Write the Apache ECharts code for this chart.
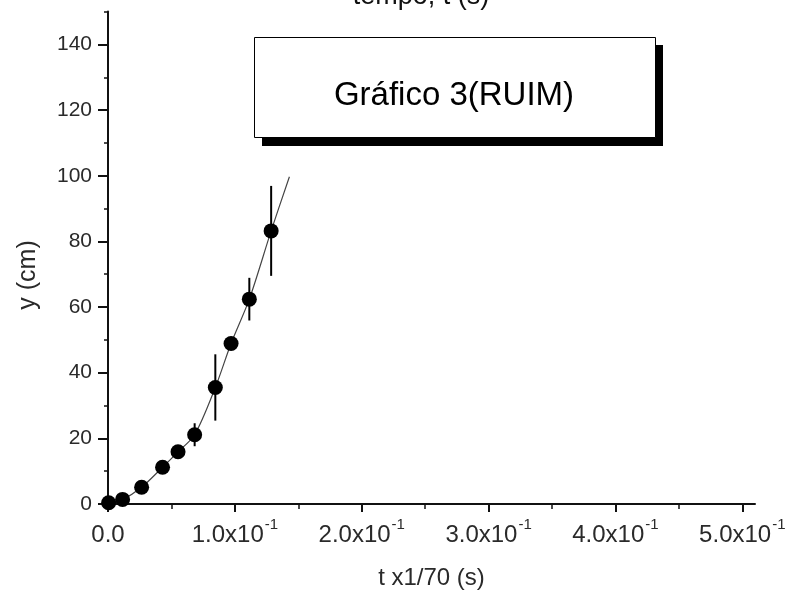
<!DOCTYPE html>
<html>
<head>
<meta charset="utf-8">
<script src="https://cdn.jsdelivr.net/npm/echarts@6/dist/echarts.min.js"></script>
<style>
html,body{margin:0;padding:0;background:#fff;}
#chart{width:794px;height:607px;}
</style>
</head>
<body>
<div id="chart"></div>
<script>
// ---- data ----
const pointT = [0.0005, 0.0115, 0.0265, 0.043, 0.0552, 0.0683, 0.0846, 0.097, 0.1114, 0.1286];
const pointY = [0.4, 1.4, 5.1, 11.2, 15.9, 21.1, 35.5, 48.9, 62.4, 83.2];
const pointErr = [0, 0, 0, 0, 0, 3.5, 10.1, 0, 6.5, 13.7];
const curveT = [0.0005, 0.0115, 0.0265, 0.043, 0.0552, 0.0683, 0.0846, 0.097, 0.1114, 0.1286, 0.143];
const curveY = [0.4, 1.4, 5.1, 11.2, 15.9, 21.1, 35.5, 48.9, 62.4, 83.2, 99.7];
const xMajorTicks = [0, 0.1, 0.2, 0.3, 0.4, 0.5];
const xMinorTicks = [0.05, 0.15, 0.25, 0.35, 0.45];
const xTickMantissa = ['0.0', '1.0', '2.0', '3.0', '4.0', '5.0'];
const xTickExponent = '-1';
const yMajorTicks = [0, 20, 40, 60, 80, 100, 120, 140];
const yMinorTicks = [10, 30, 50, 70, 90, 110, 130, 150];
const titleText = 'tempo, t (s)';
const legendText = 'Gráfico 3(RUIM)';
const xName = 't x1/70 (s)';
const yName = 'y (cm)';

const FONT = '"Liberation Sans", Arial, sans-serif';
const chart = echarts.init(document.getElementById('chart'), null, {renderer: 'canvas'});

const grid = {left: 108, top: 11.6, width: 647, height: 492.4};

function xLabel(v) {
  const i = xMajorTicks.findIndex(t => Math.abs(t - v) < 1e-9);
  if (i < 0) return '';
  if (i === 0) return '{b|' + xTickMantissa[0] + '}';
  return '{b|' + xTickMantissa[i] + 'x10}{s|' + xTickExponent + '}';
}

const option = {
  animation: false,
  backgroundColor: '#fff',
  grid: Object.assign({outerBoundsMode: 'none'}, grid),
  xAxis: [
    {
      type: 'value', min: 0, max: 0.51, interval: 0.1,
      splitLine: {show: false},
      axisLine: {lineStyle: {color: '#111', width: 2}},
      axisTick: {customValues: xMajorTicks, length: 8, lineStyle: {color: '#111', width: 2}},
      axisLabel: {
        customValues: xMajorTicks, margin: 13, formatter: xLabel,
        rich: {
          b: {fontFamily: FONT, fontSize: 24, color: '#2a2a2a', lineHeight: 30, verticalAlign: 'bottom'},
          s: {fontFamily: FONT, fontSize: 15, color: '#2a2a2a', lineHeight: 30, verticalAlign: 'top', padding: [0, 0, 0, 1]}
        }
      },
      name: xName, nameLocation: 'middle', nameGap: 62,
      nameTextStyle: {fontFamily: FONT, fontSize: 24, color: '#2a2a2a'}
    },
    {
      type: 'value', min: 0, max: 0.51, interval: 0.05, position: 'bottom',
      splitLine: {show: false},
      axisLine: {show: false},
      axisTick: {customValues: xMinorTicks, length: 5, lineStyle: {color: '#111', width: 1.5}},
      axisLabel: {show: false}
    }
  ],
  yAxis: [
    {
      type: 'value', min: 0, max: 150, interval: 20,
      splitLine: {show: false},
      axisLine: {lineStyle: {color: '#111', width: 2}},
      axisTick: {customValues: yMajorTicks, length: 10, lineStyle: {color: '#111', width: 2}},
      axisLabel: {customValues: yMajorTicks, margin: 16, fontFamily: FONT, fontSize: 21, color: '#2a2a2a'}
    },
    {
      type: 'value', min: 0, max: 150, interval: 10, position: 'left',
      splitLine: {show: false},
      axisLine: {show: false},
      axisTick: {customValues: yMinorTicks, length: 4, lineStyle: {color: '#111', width: 1.5}},
      axisLabel: {show: false}
    }
  ],
  series: [
    {
      type: 'line', xAxisIndex: 0, yAxisIndex: 0,
      data: curveT.map((t, i) => [t, curveY[i]]),
      showSymbol: false, smooth: 0.3,
      lineStyle: {color: '#444', width: 1.2},
      z: 2
    },
    {
      type: 'custom', xAxisIndex: 0, yAxisIndex: 0,
      data: pointT.map((t, i) => [t, pointY[i], pointErr[i]]),
      renderItem: function (params, api) {
        const e = api.value(2);
        if (!e) return null;
        const t = api.value(0), y = api.value(1);
        const p1 = api.coord([t, y - e]);
        const p2 = api.coord([t, y + e]);
        return {type: 'line', shape: {x1: p1[0], y1: p1[1], x2: p2[0], y2: p2[1]},
          style: {stroke: '#000', lineWidth: 2}};
      },
      z: 3
    },
    {
      type: 'scatter', xAxisIndex: 0, yAxisIndex: 0,
      data: pointT.map((t, i) => [t, pointY[i]]),
      symbol: 'circle', symbolSize: 15,
      itemStyle: {color: '#000', opacity: 1},
      z: 4
    }
  ],
  graphic: [
    {type: 'rect', shape: {x: 262, y: 45, width: 401, height: 101}, style: {fill: '#000'}, z: 10},
    {type: 'rect', shape: {x: 254.5, y: 37.5, width: 401, height: 100}, style: {fill: '#fff', stroke: '#000', lineWidth: 1}, z: 11},
    {type: 'text', x: 454, y: 96, z: 12,
      style: {text: legendText, font: '33px ' + FONT, fill: '#000', align: 'center', verticalAlign: 'middle'}},
    {type: 'text', x: 421, y: 10, z: 12,
      style: {text: titleText, font: '27px ' + FONT, fill: '#111', align: 'center', verticalAlign: 'bottom'}},
    {type: 'text', x: 28, y: 275, rotation: Math.PI / 2, z: 12,
      style: {text: yName, font: '25px ' + FONT, fill: '#2a2a2a', align: 'center', verticalAlign: 'middle'}}
  ]
};
chart.setOption(option);
</script>
</body>
</html>
